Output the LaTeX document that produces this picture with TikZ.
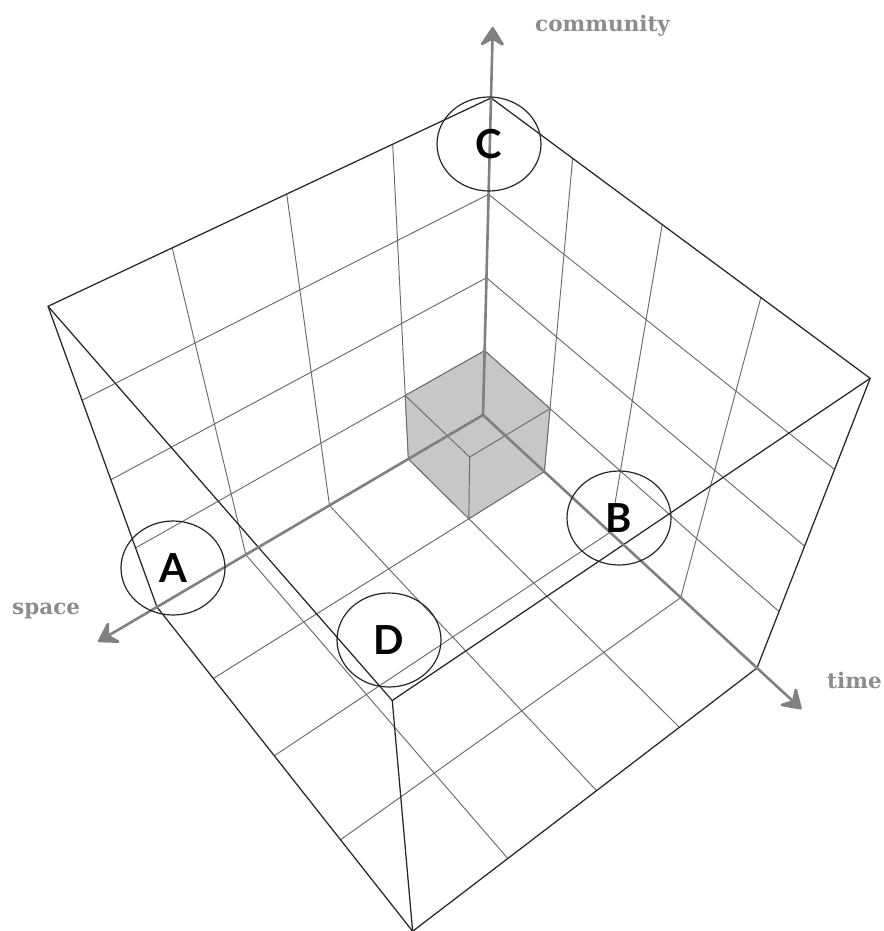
\documentclass[tikz,border=0pt]{standalone}
\usepackage{fontspec}
\usepackage{tikz}
\usetikzlibrary{arrows.meta, shapes.geometric}
\newfontfamily\labelfont{DejaVu Serif}
\newfontfamily\letterfont{Lato}

\begin{document}
\begin{tikzpicture}[
  x=1pt, y=-1pt,
  % perspective view of the space/time/community box (pixel units)
  declare function={
    pw(\x,\y,\z)=1-0.0275*\x-0.03375*\y-0.05925*\z;
    px(\x,\y,\z)=(483-85.82*\x+42.95*\y-27.09*\z)/pw(\x,\y,\z);
    py(\x,\y,\z)=(415+31.31*\x+40.705*\y-85.06*\z)/pw(\x,\y,\z);
  },
  gridline/.style={draw=black!58, line width=0.95pt},
  cubeedge/.style={draw=black!85, line width=1.25pt, line join=round},
  axisarrow/.style={draw=black!50, line width=2.6pt,
    -{Stealth[length=22pt, width=28pt, inset=8pt, round]}},
  axislabel/.style={anchor=base west, inner sep=0pt, text=black!45,
    font=\labelfont\bfseries\fontsize{21.5}{24}\selectfont},
  lettercircle/.style={draw=black!85, line width=1.2pt, ellipse, inner sep=0pt,
    minimum width=104pt, minimum height=94pt,
    font=\letterfont\bfseries\fontsize{40}{40}\selectfont}
]
  \useasboundingbox (0,0) rectangle (883,931);

  % Lattice points of the box
  \foreach \i in {0,...,4}
    \foreach \j in {0,...,4}
      \foreach \k in {0,...,4}
        \coordinate (p\i\j\k) at ({px(\i,\j,\k)},{py(\i,\j,\k)});

  % Axis tips
  \coordinate (stip) at ({px(4.63,0,0)},{py(4.63,0,0)});
  \coordinate (ttip) at ({px(0,4.55,0)},{py(0,4.55,0)});
  \coordinate (ctip) at ({px(0,0,4.65)},{py(0,0,4.65)});

  % Grid on floor and back walls
  \foreach \i in {1,2,3}{
    \draw[gridline] (p\i00) -- (p\i40);
    \draw[gridline] (p0\i0) -- (p4\i0);
    \draw[gridline] (p\i00) -- (p\i04);
    \draw[gridline] (p00\i) -- (p40\i);
    \draw[gridline] (p0\i0) -- (p0\i4);
    \draw[gridline] (p00\i) -- (p04\i);
  }

  % Unit cube at the origin
  \draw[gridline, fill=black!22] (p001) -- (p101) -- (p100) -- (p110) -- (p010) -- (p011) -- cycle;
  \draw[gridline] (p111) -- (p101) (p111) -- (p011) (p111) -- (p110);

  % Box edges
  \draw[cubeedge] (p004) -- (p404) -- (p444) -- (p044) -- cycle;
  \draw[cubeedge] (p400) -- (p440) -- (p040);
  \draw[cubeedge] (p400) -- (p404) (p440) -- (p444) (p040) -- (p044);
  \draw[cubeedge] (p000) -- (p004) (p000) -- (p400) (p000) -- (p040);

  % Axes
  \draw[axisarrow] (p000) -- (stip);
  \draw[axisarrow] (p000) -- (ttip);
  \draw[axisarrow] (p000) -- (ctip);

  \node[axislabel] (lspace) at (12,614) {space};
  \node[axislabel] (ltime) at (827,688) {time};
  \node[axislabel] (lcomm) at (535,32) {community};

  % Marked corners
  \node[lettercircle] (A) at (173,568) {A};
  \node[lettercircle] (B) at (619,518) {B};
  \node[lettercircle] (C) at (489,144) {C};
  \node[lettercircle] (D) at (389,640) {D};
\end{tikzpicture}
\end{document}
